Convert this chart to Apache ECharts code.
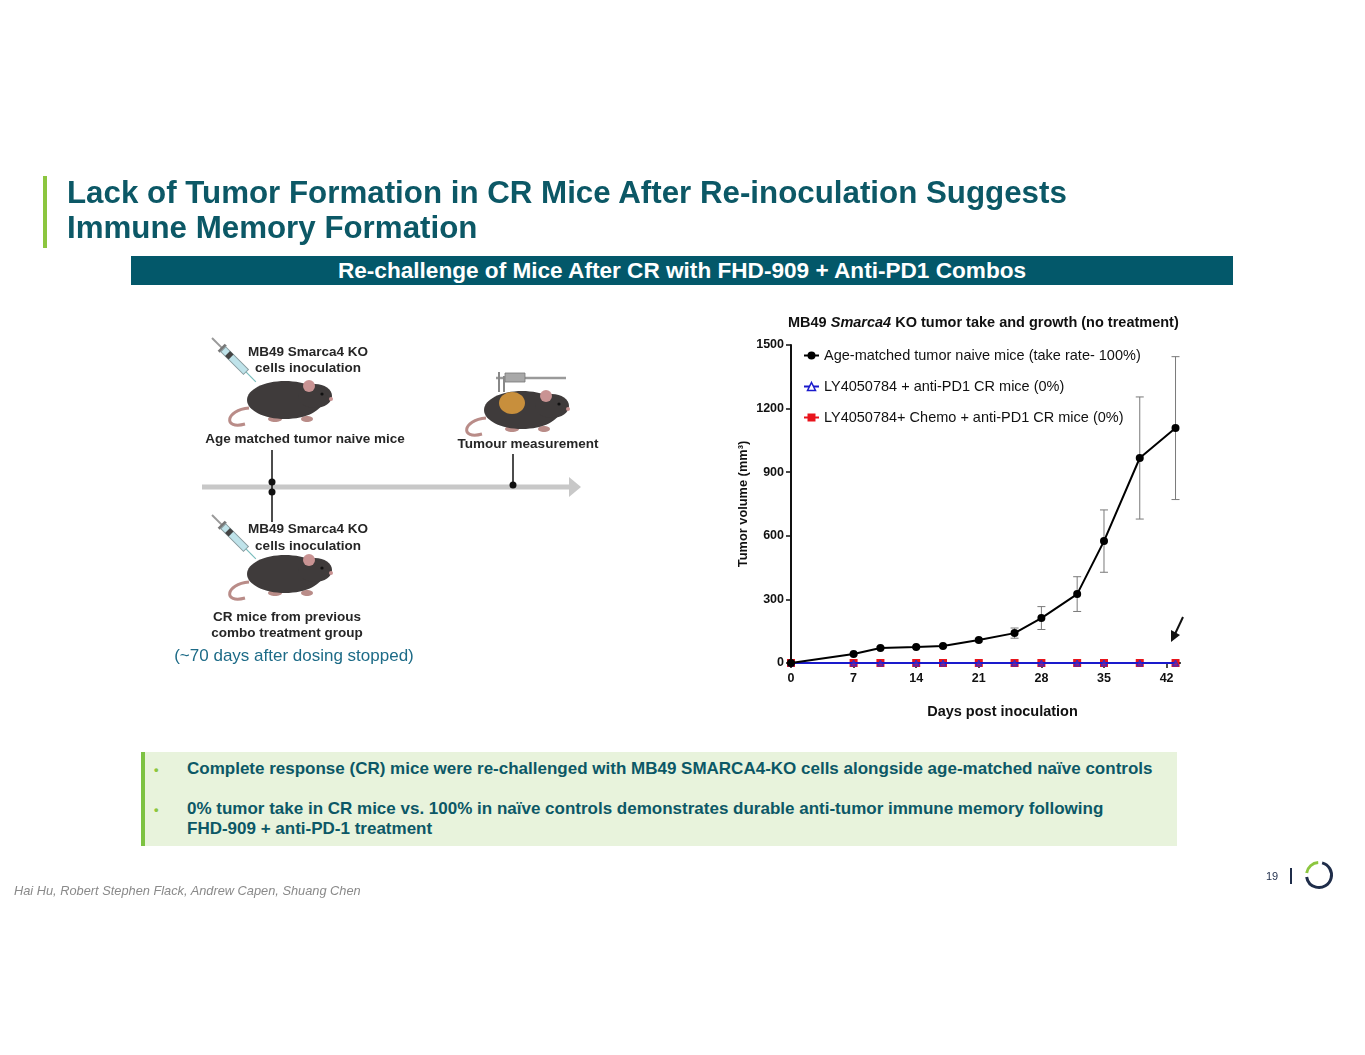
<!DOCTYPE html>
<html>
<head>
<meta charset="utf-8">
<script src="https://cdn.jsdelivr.net/npm/echarts@6/dist/echarts.min.js"></script>
<style>
  body { margin: 0; background: #fff; font-family: "Liberation Sans", Arial, sans-serif; }
  #page { position: relative; width: 1365px; height: 1055px; overflow: hidden; }
  #chart { position: absolute; left: 0; top: 0; width: 1365px; height: 1055px; }
  .abs { position: absolute; white-space: nowrap; }
  #titlebar { left: 43px; top: 176px; width: 4px; height: 72px; background: #8cc63f; }
  #title { left: 67px; top: 175px; color: #0c5866; font-weight: bold; font-size: 31.3px; line-height: 35px; }
  #banner { left: 131px; top: 256px; width: 1102px; height: 29px; background: #03586a; color: #fff;
            font-weight: bold; font-size: 22.6px; line-height: 29px; text-align: center; }
  #note { left: 150px; top: 646px; width: 288px; text-align: center; color: #1d6b87; font-size: 17px; }
  #box { left: 141px; top: 752px; width: 1036px; height: 94px; background: #e8f3dc; border-left: 4px solid #7dc242; box-sizing: border-box; }
  .bul { color: #8cc63f; font-size: 13px; font-weight: bold; }
  .btxt { color: #0c5866; font-weight: bold; font-size: 17px; line-height: 20px; }
  #foot { left: 14px; top: 883px; color: #8a8a8a; font-style: italic; font-size: 12.8px; }
  #pnum { left: 1266px; top: 870px; color: #1f2d4a; font-size: 11px; }
  #sep { left: 1290px; top: 868px; width: 1.5px; height: 16px; background: #1f2d4a; }
</style>
</head>
<body>
<div id="page">
  <div id="chart"></div>
  <div class="abs" id="titlebar"></div>
  <div class="abs" id="title">Lack of Tumor Formation in CR Mice After Re-inoculation Suggests<br>Immune Memory Formation</div>
  <div class="abs" id="banner">Re-challenge of Mice After CR with FHD-909 + Anti-PD1 Combos</div>
  <div class="abs" id="note">(~70 days after dosing stopped)</div>
  <div class="abs" id="box"></div>
  <div class="abs bul" style="left:154px;top:762px;">•</div>
  <div class="abs btxt" style="left:187px;top:759px;">Complete response (CR) mice were re-challenged with MB49 SMARCA4-KO cells alongside age-matched naïve controls</div>
  <div class="abs bul" style="left:154px;top:802px;">•</div>
  <div class="abs btxt" style="left:187px;top:799px;">0% tumor take in CR mice vs. 100% in naïve controls demonstrates durable anti-tumor immune memory following<br>FHD-909 + anti-PD-1 treatment</div>
  <div class="abs" id="foot">Hai Hu, Robert Stephen Flack, Andrew Capen, Shuang Chen</div>
  <div class="abs" id="pnum">19</div>
  <div class="abs" id="sep"></div>
</div>
<script>
// values
var days = [0, 7, 10, 14, 17, 21, 25, 28, 32, 35, 39, 43];
var naiveMean = [0, 42, 71, 75, 80, 108, 141, 212, 325, 575, 967, 1108];
var naiveSem = [0, 4, 5, 5, 6, 8, 24, 54, 82, 147, 288, 337];
var lyPd1 = [0, 0, 0, 0, 0, 0, 0, 0, 0, 0, 0, 0];
var lyChemoPd1 = [0, 0, 0, 0, 0, 0, 0, 0, 0, 0, 0, 0];
var xTicks = [0, 7, 14, 21, 28, 35, 42];
var seriesNames = [
  'Age-matched tumor naive mice (take rate- 100%)',
  'LY4050784 + anti-PD1 CR mice (0%)',
  'LY4050784+ Chemo + anti-PD1 CR mice (0%)'
];

var chart = echarts.init(document.getElementById('chart'));

function pairs(ys) {
  return days.map(function (d, i) { return [d, ys[i]]; });
}
var errData = days.map(function (d, i) {
  return [d, naiveMean[i] - naiveSem[i], naiveMean[i] + naiveSem[i]];
});

function renderErr(params, api) {
  var top = api.coord([api.value(0), api.value(2)]);
  var bot = api.coord([api.value(0), api.value(1)]);
  var w = 4;
  var st = { stroke: '#7a7a7a', lineWidth: 1 };
  return {
    type: 'group',
    children: [
      { type: 'line', shape: { x1: top[0], y1: top[1], x2: bot[0], y2: bot[1] }, style: st },
      { type: 'line', shape: { x1: top[0] - w, y1: top[1], x2: top[0] + w, y2: top[1] }, style: st },
      { type: 'line', shape: { x1: bot[0] - w, y1: bot[1], x2: bot[0] + w, y2: bot[1] }, style: st }
    ]
  };
}

// simple mouse drawing for the schematic
function mouse(x, y, tumor) {
  var kids = [
    { type: 'bezierCurve', shape: { x1: x - 36, y1: y + 8, cpx1: x - 60, cpy1: y + 10, cpx2: x - 62, cpy2: y + 30, x2: x - 40, y2: y + 24 },
      style: { stroke: '#b98c88', lineWidth: 3, fill: null } },
    { type: 'ellipse', shape: { cx: x - 10, cy: y + 19, rx: 7, ry: 3 }, style: { fill: '#b98c88' } },
    { type: 'ellipse', shape: { cx: x + 22, cy: y + 19, rx: 6, ry: 3 }, style: { fill: '#b98c88' } },
    { type: 'ellipse', shape: { cx: x, cy: y, rx: 38, ry: 19 }, style: { fill: '#3f3b3b' } },
    { type: 'ellipse', shape: { cx: x + 30, cy: y - 4, rx: 17, ry: 12 }, style: { fill: '#3f3b3b' } },
    { type: 'circle', shape: { cx: x + 24, cy: y - 14, r: 6 }, style: { fill: '#c99393' } },
    { type: 'circle', shape: { cx: x + 37, cy: y - 6, r: 1.6 }, style: { fill: '#111' } },
    { type: 'circle', shape: { cx: x + 46, cy: y - 1, r: 2 }, style: { fill: '#c99393' } }
  ];
  if (tumor) {
    kids.push({ type: 'ellipse', shape: { cx: x - 10, cy: y - 7, rx: 13, ry: 11 }, style: { fill: '#c88f3c' } });
  }
  return { type: 'group', silent: true, children: kids };
}
function syringe(x, y) {
  return {
    type: 'group', x: x, y: y, rotation: -Math.PI / 4, silent: true,
    children: [
      { type: 'line', shape: { x1: 0, y1: 0, x2: 14, y2: 0 }, style: { stroke: '#9a9a9a', lineWidth: 2 } },
      { type: 'rect', shape: { x: 13, y: -5, width: 3, height: 10 }, style: { fill: '#777' } },
      { type: 'rect', shape: { x: 16, y: -3.5, width: 32, height: 7 }, style: { fill: '#bfe3ea', stroke: '#8a9ca0', lineWidth: 1 } },
      { type: 'rect', shape: { x: 22, y: -3.5, width: 5, height: 7 }, style: { fill: '#444' } },
      { type: 'line', shape: { x1: 48, y1: 0, x2: 62, y2: 0 }, style: { stroke: '#7bb', lineWidth: 1.2 } }
    ]
  };
}
function label(x, y, text) {
  return { type: 'text', x: x, y: y, silent: true,
    style: { text: text, fill: '#262626', font: 'bold 13.5px "Liberation Sans", Arial, sans-serif', align: 'center', verticalAlign: 'middle' } };
}

var graphics = [
  // timeline
  { type: 'line', shape: { x1: 202, y1: 487, x2: 570, y2: 487 }, style: { stroke: '#c8c8c8', lineWidth: 5 } },
  { type: 'polygon', shape: { points: [[569, 477], [581, 487], [569, 497]] }, style: { fill: '#c8c8c8' } },
  { type: 'line', shape: { x1: 272, y1: 450, x2: 272, y2: 522 }, style: { stroke: '#111', lineWidth: 1.5 } },
  { type: 'line', shape: { x1: 513, y1: 454, x2: 513, y2: 485 }, style: { stroke: '#111', lineWidth: 1.5 } },
  { type: 'circle', shape: { cx: 272, cy: 482, r: 3.5 }, style: { fill: '#111' } },
  { type: 'circle', shape: { cx: 272, cy: 492, r: 3.5 }, style: { fill: '#111' } },
  { type: 'circle', shape: { cx: 513, cy: 485, r: 3.5 }, style: { fill: '#111' } },
  mouse(285, 400, false),
  mouse(522, 410, true),
  mouse(285, 574, false),
  syringe(212, 338),
  syringe(212, 515),
  // caliper
  { type: 'line', shape: { x1: 496, y1: 378, x2: 566, y2: 378 }, style: { stroke: '#9a9a9a', lineWidth: 2.5 } },
  { type: 'rect', shape: { x: 505, y: 373, width: 20, height: 9 }, style: { fill: '#a8a8a8', stroke: '#777', lineWidth: 0.8 } },
  { type: 'line', shape: { x1: 499, y1: 372, x2: 499, y2: 392 }, style: { stroke: '#888', lineWidth: 2 } },
  { type: 'line', shape: { x1: 504, y1: 376, x2: 504, y2: 392 }, style: { stroke: '#888', lineWidth: 2 } },
  label(308, 352, 'MB49 Smarca4 KO'),
  label(308, 368, 'cells inoculation'),
  label(305, 439, 'Age matched tumor naive mice'),
  label(528, 444, 'Tumour measurement'),
  label(308, 529, 'MB49 Smarca4 KO'),
  label(308, 546, 'cells inoculation'),
  label(287, 617, 'CR mice from previous'),
  label(287, 633, 'combo treatment group'),
  // arrow pointing at the CR groups
  { type: 'line', shape: { x1: 1183, y1: 617, x2: 1175, y2: 634 }, style: { stroke: '#111', lineWidth: 2 } },
  { type: 'polygon', shape: { points: [[1171, 642], [1171, 630], [1180, 635]] }, style: { fill: '#111' } },
  // logo ring
  { type: 'arc', shape: { cx: 1319, cy: 875, r: 12.5, startAngle: -Math.PI * 0.42, endAngle: Math.PI * 0.95 }, style: { stroke: '#1f2d4a', lineWidth: 3, fill: null } },
  { type: 'arc', shape: { cx: 1319, cy: 875, r: 12.5, startAngle: Math.PI * 1.05, endAngle: Math.PI * 1.48 }, style: { stroke: '#8cc63f', lineWidth: 3, fill: null } }
];

var baseFont = '"Liberation Sans", Arial, sans-serif';

var option = {
  animation: false,
  title: {
    left: 783, top: 310,
    text: '{b|MB49 }{i|Smarca4}{b| KO tumor take and growth (no treatment)}',
    textStyle: {
      rich: {
        b: { fontFamily: baseFont, fontWeight: 'bold', fontSize: 14.5, color: '#111' },
        i: { fontFamily: baseFont, fontWeight: 'bold', fontStyle: 'italic', fontSize: 14.5, color: '#111' }
      }
    }
  },
  legend: {
    orient: 'vertical', left: 803, top: 348, padding: 0, itemGap: 16, itemWidth: 15, itemHeight: 10,
    data: [
      { name: seriesNames[0] },
      { name: seriesNames[1], itemStyle: { color: '#fff', borderColor: '#1a1acc', borderWidth: 1.5 } },
      { name: seriesNames[2] }
    ],
    textStyle: { fontFamily: baseFont, fontSize: 14.5, color: '#111' }
  },
  grid: { left: 791, top: 345, width: 389, height: 318, containLabel: false },
  xAxis: {
    type: 'value', min: 0, max: 43.5, interval: 7,
    name: 'Days post inoculation', nameLocation: 'middle', nameGap: 41,
    nameTextStyle: { fontFamily: baseFont, fontWeight: 'bold', fontSize: 14.5, color: '#111', padding: [0, 0, 0, 34] },
    axisLine: { lineStyle: { color: '#111', width: 2 } },
    axisTick: { length: 5, lineStyle: { color: '#111', width: 1.5 }, customValues: xTicks },
    axisLabel: { customValues: xTicks, margin: 9, fontFamily: baseFont, fontWeight: 'bold', fontSize: 12.5, color: '#111' },
    splitLine: { show: false }
  },
  yAxis: {
    type: 'value', min: 0, max: 1500, interval: 300,
    name: 'Tumor volume (mm³)', nameLocation: 'middle', nameGap: 41, nameRotate: 90,
    nameTextStyle: { fontFamily: baseFont, fontWeight: 'bold', fontSize: 12.8, color: '#111' },
    axisLine: { show: true, lineStyle: { color: '#111', width: 2 } },
    axisTick: { show: true, length: 5, lineStyle: { color: '#111', width: 1.5 } },
    axisLabel: { margin: 7, formatter: function (v) { return String(v); }, fontFamily: baseFont, fontWeight: 'bold', fontSize: 12.5, color: '#111' },
    splitLine: { show: false }
  },
  graphic: graphics,
  series: [
    {
      name: seriesNames[0], type: 'line', data: pairs(naiveMean), z: 4,
      symbol: 'circle', symbolSize: 8,
      lineStyle: { color: '#000', width: 2 }, itemStyle: { color: '#000' }
    },
    {
      name: seriesNames[1], type: 'line', data: pairs(lyPd1), z: 3,
      symbol: 'triangle', symbolSize: 6, showAllSymbol: true,
      lineStyle: { color: '#1a1acc', width: 2 },
      itemStyle: { color: 'rgba(110,40,170,0.6)', borderColor: '#2a2ad0', borderWidth: 1 }
    },
    {
      name: seriesNames[2], type: 'line', data: pairs(lyChemoPd1), z: 2,
      symbol: 'rect', symbolSize: 8,
      lineStyle: { color: '#e8141c', width: 2 }, itemStyle: { color: '#e8141c' }
    },
    {
      type: 'custom', data: errData, renderItem: renderErr, z: 1, silent: true
    }
  ]
};
chart.setOption(option);
</script>
</body>
</html>
